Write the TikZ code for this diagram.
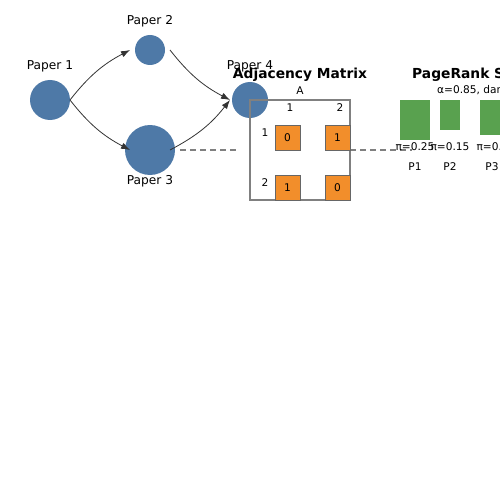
\documentclass[tikz,border=0pt]{standalone}
\usepackage{fontspec}
\setmainfont{DejaVu Sans}
\usetikzlibrary{arrows.meta}
\definecolor{nblue}{RGB}{78,121,167}
\definecolor{corange}{RGB}{242,142,43}
\definecolor{bgreen}{RGB}{89,161,79}
\definecolor{edgegray}{RGB}{51,51,51}
\begin{document}
\begin{tikzpicture}[x=1pt,y=-1pt,
  paper/.style={circle,fill=nblue,draw=none,inner sep=0pt},
  lbl/.style={font=\fontsize{12.2}{14}\selectfont,inner sep=0pt,anchor=center},
  small/.style={font=\fontsize{10.6}{12}\selectfont,inner sep=0pt,anchor=center},
  ttl/.style={font=\fontsize{13.8}{16}\selectfont\bfseries,inner sep=0pt,anchor=center},
  cite/.style={-{Latex[length=9pt,width=6.5pt]},draw=edgegray,line width=0.8pt},
  dashlink/.style={draw=gray,dashed,dash pattern=on 6pt off 4pt,line width=1.2pt},
  cell/.style={fill=corange,draw=black!60,line width=0.9pt},
  bar/.style={fill=bgreen,draw=none}]
\useasboundingbox (0,0) rectangle (500,500);
\clip (0,0) rectangle (500,500);
% papers
\node[paper,minimum size=40pt] (p1) at (50,100) {};
\node[paper,minimum size=30pt] (p2) at (150,50) {};
\node[paper,minimum size=50pt] (p3) at (150,150) {};
\node[paper,minimum size=36pt] (p4) at (250,100) {};
\node[lbl] (l1) at (50,66) {Paper 1};
\node[lbl] (l2) at (150,21) {Paper 2};
\node[lbl] (l3) at (150,181) {Paper 3};
\node[lbl] (l4) at (250,66) {Paper 4};
% connector end points
\coordinate (a1) at (70,100);
\coordinate (a2) at (130,50);
\coordinate (a3) at (130,150);
\coordinate (b2) at (170,50);
\coordinate (b3) at (170,150);
\coordinate (a4) at (230,100);
\draw[cite] (a1) to[bend left=12] (a2);
\draw[cite] (a1) to[bend right=12] (a3);
\draw[cite] (b2) to[bend right=12] (a4);
\draw[cite] (b3) to[bend right=12] (a4);
% dashed links
\coordinate (d1) at (180,150);
\coordinate (d2) at (236,150);
\coordinate (d3) at (350,150);
\coordinate (d4) at (412,150);
\draw[dashlink] (d1) -- (d2);
\draw[dashlink] (d3) -- (d4);
% adjacency matrix
\node[ttl] (mt) at (300,75) {Adjacency Matrix};
\node[small] (ma) at (300,91) {A};
\draw[draw=black!50,line width=1.4pt] (250,100) rectangle (350,200);
\node[small] (c1) at (290,108) {1};
\node[small] (c2) at (340,108) {2};
\node[small] (r1) at (265,133) {1};
\node[small] (r2) at (265,183) {2};
\draw[cell] (275,125) rectangle (300,150);
\draw[cell] (325,125) rectangle (350,150);
\draw[cell] (275,175) rectangle (300,200);
\draw[cell] (325,175) rectangle (350,200);
\node[small] (v11) at (287.5,138) {0};
\node[small] (v12) at (337.5,138) {1};
\node[small] (v21) at (287.5,188) {1};
\node[small] (v22) at (337.5,188) {0};
% pagerank
\node[ttl,anchor=west] (pt) at (412,75) {PageRank Scores};
\node[small,anchor=west] (pa) at (437,91) {α=0.85, damping};
\fill[bgreen] (400,100) rectangle (430,140);
\fill[bgreen] (440,100) rectangle (460,130);
\fill[bgreen] (480,100) rectangle (510,135);
\node[small] (s1) at (415,147) {π=0.25};
\node[small] (s2) at (450,147) {π=0.15};
\node[small] (s3) at (496,147) {π=0.20};
\node[small] (n1) at (415,167) {P1};
\node[small] (n2) at (450,167) {P2};
\node[small] (n3) at (492,167) {P3};
\end{tikzpicture}
\end{document}
